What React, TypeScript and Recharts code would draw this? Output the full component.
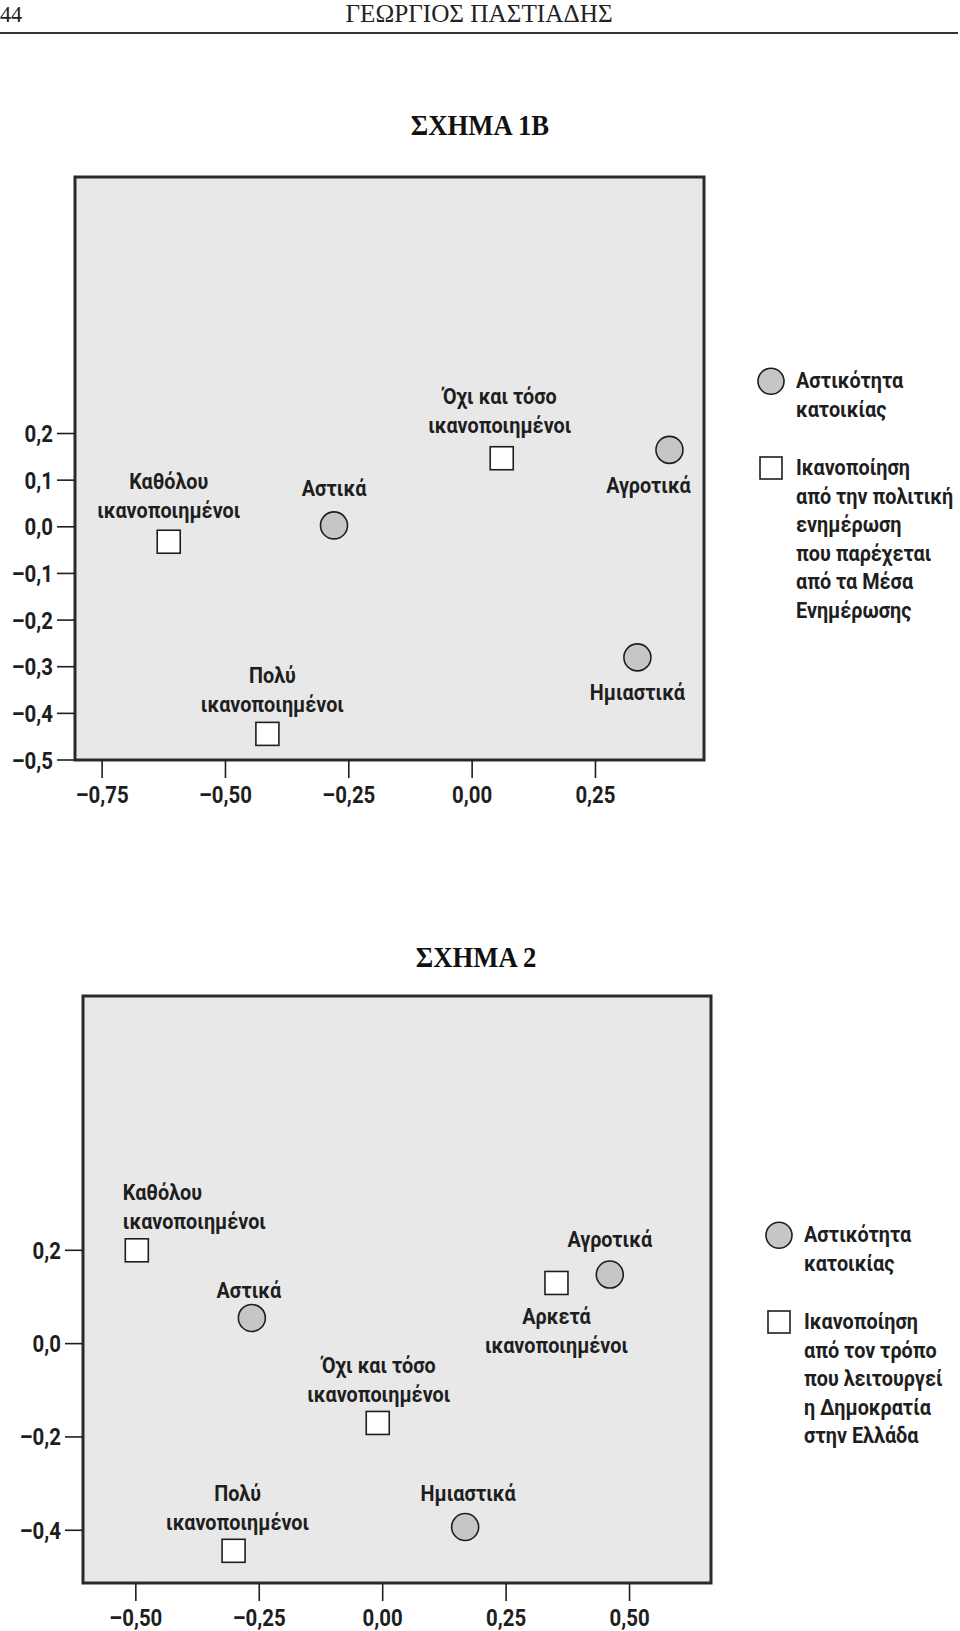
import React from 'react';
import {
  ScatterChart,
  Scatter,
  XAxis,
  YAxis,
  CartesianGrid,
  ReferenceArea,
  Legend,
} from 'recharts';

const FONT = "Roboto, 'Liberation Sans', sans-serif";
const SERIF = "'Liberation Serif', 'DejaVu Serif', serif";
const INK = '#1e1e1e';
const SQUEEZE = 0.9; // the printed labels use a condensed face

// ΣΧΗΜΑ 1Β
const fig1UrbanNames = [['Αστικά'], ['Αγροτικά'], ['Ημιαστικά']];
const fig1UrbanX = [-0.28, 0.4, 0.335];
const fig1UrbanY = [0.003, 0.165, -0.28];
const fig1SatNames = [
  ['Καθόλου', 'ικανοποιημένοι'],
  ['Όχι και τόσο', 'ικανοποιημένοι'],
  ['Πολύ', 'ικανοποιημένοι'],
];
const fig1SatX = [-0.615, 0.06, -0.415];
const fig1SatY = [-0.032, 0.147, -0.444];
const fig1XTicks = [-0.75, -0.5, -0.25, 0, 0.25];
const fig1YTicks = [-0.5, -0.4, -0.3, -0.2, -0.1, 0, 0.1, 0.2];
const fig1LegendUrban = ['Αστικότητα', 'κατοικίας'];
const fig1LegendSat = ['Ικανοποίηση', 'από την πολιτική', 'ενημέρωση', 'που παρέχεται', 'από τα Μέσα', 'Ενημέρωσης'];

// ΣΧΗΜΑ 2
const fig2UrbanNames = [['Αστικά'], ['Αγροτικά'], ['Ημιαστικά']];
const fig2UrbanX = [-0.265, 0.46, 0.167];
const fig2UrbanY = [0.055, 0.148, -0.393];
const fig2SatNames = [
  ['Καθόλου', 'ικανοποιημένοι'],
  ['Αρκετά', 'ικανοποιημένοι'],
  ['Όχι και τόσο', 'ικανοποιημένοι'],
  ['Πολύ', 'ικανοποιημένοι'],
];
const fig2SatX = [-0.498, 0.352, -0.01, -0.302];
const fig2SatY = [0.2, 0.13, -0.17, -0.444];
const fig2XTicks = [-0.5, -0.25, 0, 0.25, 0.5];
const fig2YTicks = [-0.4, -0.2, 0, 0.2];
const fig2LegendUrban = ['Αστικότητα', 'κατοικίας'];
const fig2LegendSat = ['Ικανοποίηση', 'από τον τρόπο', 'που λειτουργεί', 'η Δημοκρατία', 'στην Ελλάδα'];

// where each point's label sits relative to its marker
type Place = { side: 'above' | 'below'; gap: number; dx: number; anchor?: 'start' | 'middle' | 'end' };
const fig1Places: Place[][] = [
  [
    { side: 'above', gap: 37, dx: 0 },
    { side: 'below', gap: 36, dx: -21 },
    { side: 'below', gap: 35, dx: 0 },
  ],
  [
    { side: 'above', gap: 31, dx: 0 },
    { side: 'above', gap: 33, dx: -2 },
    { side: 'above', gap: 29, dx: 5 },
  ],
];
const fig2Places: Place[][] = [
  [
    { side: 'above', gap: 27, dx: -3 },
    { side: 'above', gap: 35, dx: 0 },
    { side: 'above', gap: 33, dx: 3 },
  ],
  [
    { side: 'above', gap: 29, dx: -14, anchor: 'start' },
    { side: 'below', gap: 34, dx: 0 },
    { side: 'above', gap: 28, dx: 1 },
    { side: 'above', gap: 28, dx: 4 },
  ],
];

const toPoints = (names: string[][], xs: number[], ys: number[], places: Place[]) =>
  names.map((lines, i) => ({ x: xs[i], y: ys[i], lines, place: places[i] }));

const fmt = (digits: number) => (v: number) => v.toFixed(digits).replace('.', ',').replace('-', '–');

const LINE_H = 29;

function PointLabel({ cx, cy, lines, place }: any) {
  const n = lines.length;
  return (
    <g>
      {lines.map((t: string, i: number) => {
        const y = place.side === 'above' ? cy - place.gap - (n - 1 - i) * LINE_H : cy + place.gap + i * LINE_H;
        return (
          <text
            key={i}
            transform={`translate(${cx + place.dx} ${y}) scale(${SQUEEZE} 1)`}
            textAnchor={place.anchor ?? 'middle'}
            dominantBaseline="central"
            fontFamily={FONT}
            fontWeight="bold"
            fontSize={22}
            fill={INK}
          >
            {t}
          </text>
        );
      })}
    </g>
  );
}

const CircleMark = (p: any) => (
  <g>
    <circle cx={p.cx} cy={p.cy} r={13.5} fill="#c6c6c6" stroke={INK} strokeWidth={1.6} />
    <PointLabel cx={p.cx} cy={p.cy} lines={p.payload.lines} place={p.payload.place} />
  </g>
);

const SquareMark = (p: any) => (
  <g>
    <rect x={p.cx - 11.5} y={p.cy - 11.5} width={23} height={23} fill="#fff" stroke={INK} strokeWidth={1.6} />
    <PointLabel cx={p.cx} cy={p.cy} lines={p.payload.lines} place={p.payload.place} />
  </g>
);

const tickText = {
  fontFamily: FONT,
  fontWeight: 'bold' as const,
  fontSize: 24,
  fill: INK,
};

const XTick = ({ x, y, payload }: any) => (
  <text transform={`translate(${x} ${y}) scale(0.85 1)`} textAnchor="middle" dy="0.71em" {...tickText}>
    {fmt(2)(payload.value)}
  </text>
);

const YTick = ({ x, y, payload }: any) => (
  <text transform={`translate(${x} ${y}) scale(0.85 1)`} textAnchor="end" dy="0.355em" {...tickText}>
    {fmt(1)(payload.value)}
  </text>
);

function LegendBox({ urban, sat, gapBetween }: { urban: string[]; sat: string[]; gapBetween: number }) {
  const textStyle: React.CSSProperties = {
    fontFamily: FONT,
    fontWeight: 'bold',
    fontSize: 22,
    lineHeight: '28.5px',
    color: INK,
    whiteSpace: 'nowrap',
    transform: `scaleX(${SQUEEZE})`,
    transformOrigin: 'left top',
  };
  return (
    <div>
      <div style={{ display: 'flex', alignItems: 'flex-start' }}>
        <svg width={28} height={28.5} style={{ flex: 'none' }}>
          <circle cx={14} cy={14.25} r={13} fill="#c6c6c6" stroke={INK} strokeWidth={1.6} />
        </svg>
        <div style={{ ...textStyle, marginLeft: 11 }}>
          {urban.map((t, i) => (
            <div key={i}>{t}</div>
          ))}
        </div>
      </div>
      <div style={{ display: 'flex', alignItems: 'flex-start', marginTop: gapBetween }}>
        <svg width={28} height={28.5} style={{ flex: 'none' }}>
          <rect x={3} y={3} width={22} height={22} fill="#fff" stroke={INK} strokeWidth={1.6} />
        </svg>
        <div style={{ ...textStyle, marginLeft: 11 }}>
          {sat.map((t, i) => (
            <div key={i}>{t}</div>
          ))}
        </div>
      </div>
    </div>
  );
}

interface FigureProps {
  top: number;
  height: number;
  marginTop: number;
  marginRight: number;
  yAxisWidth: number;
  xAxisHeight: number;
  xDomain: [number, number];
  yDomain: [number, number];
  xTicks: number[];
  yTicks: number[];
  circles: any[];
  squares: any[];
  legendUrban: string[];
  legendSat: string[];
  legendLeft: number;
  legendTop: number;
  legendGap: number;
}

function Figure(f: FigureProps) {
  return (
    <div style={{ position: 'absolute', left: 0, top: f.top }}>
      <ScatterChart
        width={960}
        height={f.height}
        margin={{ top: f.marginTop, right: f.marginRight, bottom: 0, left: 0 }}
      >
        <CartesianGrid horizontal={false} vertical={false} fill="#e8e8e8" />
        <XAxis
          type="number"
          dataKey="x"
          domain={f.xDomain}
          ticks={f.xTicks}
          allowDataOverflow
          height={f.xAxisHeight}
          axisLine={false}
          tickLine={{ stroke: INK, strokeWidth: 1.6 }}
          tickSize={18}
          tickMargin={8}
          tick={<XTick />}
          interval={0}
        />
        <YAxis
          type="number"
          dataKey="y"
          domain={f.yDomain}
          ticks={f.yTicks}
          allowDataOverflow
          width={f.yAxisWidth}
          axisLine={false}
          tickLine={{ stroke: INK, strokeWidth: 1.6 }}
          tickSize={18}
          tickMargin={4}
          tick={<YTick />}
          interval={0}
        />
        <ReferenceArea
          x1={f.xDomain[0]}
          x2={f.xDomain[1]}
          y1={f.yDomain[0]}
          y2={f.yDomain[1]}
          fill="none"
          stroke="#2a2a2a"
          strokeWidth={3}
        />
        <Scatter data={f.circles} shape={CircleMark} isAnimationActive={false} />
        <Scatter data={f.squares} shape={SquareMark} isAnimationActive={false} />
        <Legend
          layout="vertical"
          align="center"
          verticalAlign="middle"
          wrapperStyle={{ left: f.legendLeft, top: f.legendTop, width: 200 }}
          content={() => <LegendBox urban={f.legendUrban} sat={f.legendSat} gapBetween={f.legendGap} />}
        />
      </ScatterChart>
    </div>
  );
}

const headStyle: React.CSSProperties = {
  position: 'absolute',
  left: 0,
  top: 1,
  fontFamily: SERIF,
  fontSize: 26,
  lineHeight: '26px',
  color: '#222',
};

const figTitleStyle: React.CSSProperties = {
  position: 'absolute',
  left: 0,
  textAlign: 'center',
  fontFamily: SERIF,
  fontWeight: 'bold',
  fontSize: 29,
  lineHeight: '34px',
  color: '#111',
  transform: 'scaleX(0.92)',
};

export default function App() {
  const fig1Circles = toPoints(fig1UrbanNames, fig1UrbanX, fig1UrbanY, fig1Places[0]);
  const fig1Squares = toPoints(fig1SatNames, fig1SatX, fig1SatY, fig1Places[1]);
  const fig2Circles = toPoints(fig2UrbanNames, fig2UrbanX, fig2UrbanY, fig2Places[0]);
  const fig2Squares = toPoints(fig2SatNames, fig2SatX, fig2SatY, fig2Places[1]);

  return (
    <div style={{ position: 'absolute', left: 0, top: 0, width: 960, height: 1631, background: '#fff', overflow: 'hidden' }}>
      {/* running head */}
      <div style={{ ...headStyle, fontSize: 24, transform: 'scaleX(0.92)', transformOrigin: 'left top' }}>44</div>
      <div style={{ ...headStyle, width: 958, textAlign: 'center', transform: 'scaleX(0.97)' }}>ΓΕΩΡΓΙΟΣ ΠΑΣΤΙΑΔΗΣ</div>
      <div style={{ position: 'absolute', left: 0, top: 32, width: 958, height: 2, background: '#333' }} />

      <div style={{ ...figTitleStyle, top: 108, width: 960 }}>ΣΧΗΜΑ 1Β</div>

      <Figure
        top={150}
        height={680}
        marginTop={27}
        marginRight={256}
        yAxisWidth={75}
        xAxisHeight={70}
        xDomain={[-0.805, 0.47]}
        yDomain={[-0.5, 0.75]}
        xTicks={fig1XTicks}
        yTicks={fig1YTicks}
        circles={fig1Circles}
        squares={fig1Squares}
        legendUrban={fig1LegendUrban}
        legendSat={fig1LegendSat}
        legendLeft={757}
        legendTop={217}
        legendGap={30}
      />

      <div style={{ ...figTitleStyle, top: 940, width: 952 }}>ΣΧΗΜΑ 2</div>

      <Figure
        top={930}
        height={700}
        marginTop={66}
        marginRight={249}
        yAxisWidth={83}
        xAxisHeight={47}
        xDomain={[-0.607, 0.665]}
        yDomain={[-0.513, 0.745]}
        xTicks={fig2XTicks}
        yTicks={fig2YTicks}
        circles={fig2Circles}
        squares={fig2Squares}
        legendUrban={fig2LegendUrban}
        legendSat={fig2LegendSat}
        legendLeft={765}
        legendTop={291}
        legendGap={30}
      />
    </div>
  );
}
